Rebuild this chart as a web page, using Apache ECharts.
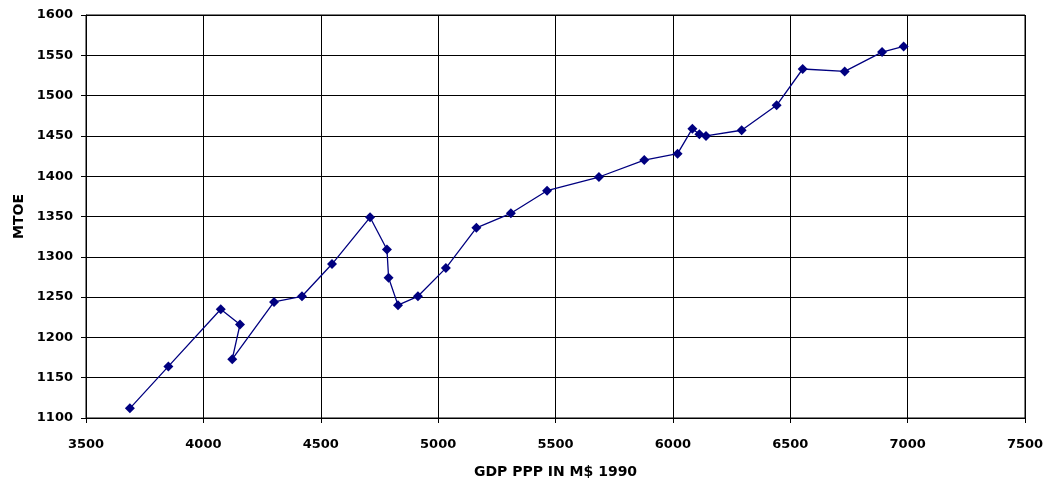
<!DOCTYPE html>
<html>
<head>
<meta charset="utf-8">
<script src="https://cdn.jsdelivr.net/npm/echarts@6/dist/echarts.min.js"></script>
<style>html,body{margin:0;padding:0;background:#fff}#c{width:1049px;height:485px}</style>
</head>
<body>
<div id="c"></div>
<script>
const gdp = [3687, 3851, 4074, 4156, 4123, 4301, 4420, 4548, 4710, 4782, 4789, 4829, 4914, 5033, 5163, 5310, 5464, 5685, 5878, 6020, 6083, 6113, 6141, 6293, 6442, 6553, 6732, 6891, 6983];
const mtoe = [1112, 1164, 1235, 1216, 1173, 1244, 1251, 1291, 1349, 1309, 1274, 1240, 1251, 1286, 1336, 1354, 1382, 1399, 1420, 1428, 1459, 1452, 1450, 1457, 1488, 1533, 1530, 1554, 1561];
const xTitle = 'GDP PPP IN M$ 1990';
const yTitle = 'MTOE';

const chart = echarts.init(document.getElementById('c'));
const font = 'DejaVu Sans';
chart.setOption({
  animation: false,
  backgroundColor: '#fff',
  grid: { left: 86, right: 24, top: 15, bottom: 67, show: true, borderColor: '#000', borderWidth: 1 },
  xAxis: {
    type: 'value', min: 3500, max: 7500, interval: 500,
    name: xTitle, nameLocation: 'middle', nameGap: 47,
    nameTextStyle: { fontFamily: font, fontWeight: 'bold', fontSize: 14, color: '#000' },
    axisLine: { show: true, lineStyle: { color: '#000', width: 1 } },
    axisTick: { show: true, inside: false, length: 5, lineStyle: { color: '#000' } },
    axisLabel: { fontFamily: font, fontWeight: 'bold', fontSize: 13, color: '#000', margin: 20, formatter: v => String(v) },
    splitLine: { show: true, lineStyle: { color: '#000', width: 1 } }
  },
  yAxis: {
    type: 'value', min: 1100, max: 1600, interval: 50,
    name: yTitle, nameLocation: 'middle', nameGap: 58, nameRotate: 90,
    nameTextStyle: { fontFamily: font, fontWeight: 'bold', fontSize: 14, color: '#000' },
    axisLine: { show: true, lineStyle: { color: '#000', width: 1 } },
    axisTick: { show: true, inside: false, length: 5, lineStyle: { color: '#000' } },
    axisLabel: { fontFamily: font, fontWeight: 'bold', fontSize: 13, color: '#000', margin: 13, formatter: v => String(v) },
    splitLine: { show: true, lineStyle: { color: '#000', width: 1 } }
  },
  series: [{
    type: 'line',
    data: gdp.map((g, i) => [g, mtoe[i]]),
    symbol: 'diamond', symbolSize: 10,
    lineStyle: { color: '#000080', width: 1.3 },
    itemStyle: { color: '#000080' },
    showAllSymbol: true
  }]
});
</script>
</body>
</html>
